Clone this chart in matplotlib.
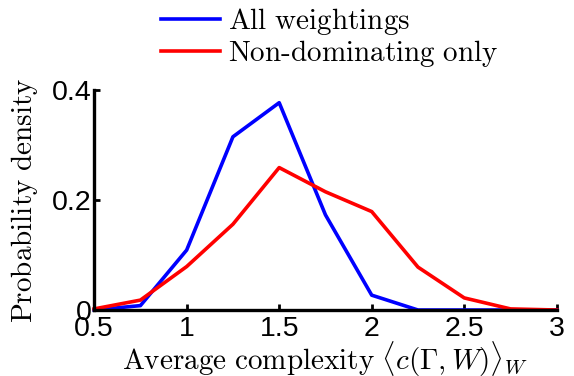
import numpy as np
import matplotlib
matplotlib.use('Agg')
import matplotlib.pyplot as plt

# complexity bins and densities
complexity = [0.5, 0.75, 1.0, 1.25, 1.5, 1.75, 2.0, 2.25, 2.5, 2.75, 3.0]
all_weightings = [0.0, 0.008, 0.109, 0.315, 0.377, 0.173, 0.027, 0.0, 0.0, 0.0, 0.0]
non_dominating = [0.002, 0.018, 0.079, 0.156, 0.259, 0.215, 0.179, 0.078, 0.022, 0.002, 0.0]

x_ticks = [0.5, 1, 1.5, 2, 2.5, 3]
x_tick_labels = ['0.5', '1', '1.5', '2', '2.5', '3']
y_ticks = [0, 0.2, 0.4]
y_tick_labels = ['0', '0.2', '0.4']

plt.rcParams['mathtext.fontset'] = 'cm'
plt.rcParams['font.family'] = ['Liberation Sans', 'DejaVu Sans']

fig = plt.figure(figsize=(5.74, 3.76), dpi=100)
ax = fig.add_axes([0.164, 0.1755, 0.806, 0.585])

ax.plot(complexity, all_weightings, color='#0000ff', lw=2.6,
        label=r'$\mathrm{All\ weightings}$', clip_on=False)
ax.plot(complexity, non_dominating, color='#ff0000', lw=2.6,
        label=r'$\mathrm{Non\text{-}dominating\ only}$', clip_on=False)

ax.set_xlim(0.5, 3)
ax.set_ylim(0, 0.4)
ax.set_xticks(x_ticks)
ax.set_xticklabels(x_tick_labels)
ax.set_yticks(y_ticks)
ax.set_yticklabels(y_tick_labels)
ax.tick_params(direction='in', length=4, width=2, labelsize=20.5)
ax.tick_params(axis='x', pad=4)
ax.tick_params(axis='y', pad=2)

for s in ['top', 'right']:
    ax.spines[s].set_visible(False)
for s in ['left', 'bottom']:
    ax.spines[s].set_linewidth(2.4)

ax.set_xlabel(r'$\mathrm{Average\ complexity}\ \langle c(\Gamma,W)\rangle_W$', fontsize=21, labelpad=-1)
ax.set_ylabel(r'$\mathrm{Probability\ density}$', fontsize=21, labelpad=8)

fig.legend(loc='upper center', bbox_to_anchor=(0.575, 1.015), frameon=False,
           fontsize=21, handlelength=2.0, handletextpad=0.3, labelspacing=0.05,
           borderaxespad=0)

fig.savefig('out.png', dpi=100)
